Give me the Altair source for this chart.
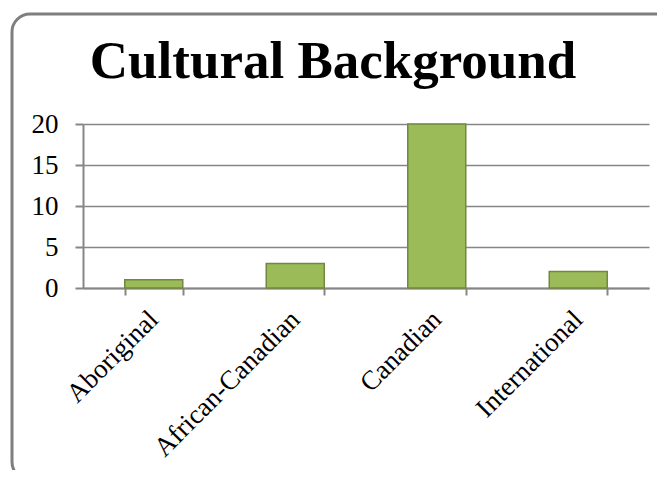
import altair as alt
import pandas as pd

categories = ["Aboriginal", "African-Canadian", "Canadian", "International"]
counts = [1, 3, 20, 2]
y_ticks = [0, 5, 10, 15, 20]

df = pd.DataFrame({"category": categories, "count": counts})

GRAY = "#868686"
FONT = "Liberation Serif"

bars = alt.Chart(df).mark_bar(
    color="#9BBB59", stroke="#71893F", strokeWidth=1.5
).encode(
    x=alt.X(
        "category:N",
        sort=categories,
        title=None,
        scale=alt.Scale(paddingInner=0.59, paddingOuter=0.295),
        axis=alt.Axis(
            labelAngle=-45,
            labelAlign="right",
            labelBaseline="middle",
            labelPadding=20,
            labelFont=FONT,
            labelFontSize=27,
            labelColor="black",
            labelLimit=0,
            tickBand="extent",
            tickSize=7,
            tickColor=GRAY,
            tickWidth=2,
            domainColor=GRAY,
            domainWidth=2,
            grid=False,
        ),
    ),
    y=alt.Y(
        "count:Q",
        title=None,
        scale=alt.Scale(domain=[0, 20], nice=False),
        axis=alt.Axis(
            values=y_ticks,
            labelFont=FONT,
            labelFontSize=27,
            labelColor="black",
            labelPadding=17,
            tickSize=8,
            tickColor=GRAY,
            tickWidth=2,
            domainColor=GRAY,
            domainWidth=2,
            grid=True,
            gridColor=GRAY,
            gridWidth=1.5,
        ),
    ),
)

frame = alt.Chart(alt.Data(values=[{"f": 1}])).mark_rect(
    fill="transparent", stroke="#7F7F7F", strokeWidth=3, cornerRadius=18
).encode(
    x=alt.value(-71), x2=alt.value(597), y=alt.value(-110), y2=alt.value(356)
)

chart = alt.layer(frame, bars).properties(
    width=566,
    height=164,
    autosize=alt.AutoSizeParams(type="none"),
    padding={"left": 75, "top": 116, "right": 8, "bottom": 182},
    title=alt.TitleParams(
        text="Cultural Background",
        font=FONT,
        fontSize=53,
        fontWeight="bold",
        color="black",
        anchor="middle",
        baseline="alphabetic",
        dx=-33,
        offset=-118,
    ),
).configure_view(stroke=None)

chart.save("out.html", embed_options={"renderer": "svg", "actions": False})
